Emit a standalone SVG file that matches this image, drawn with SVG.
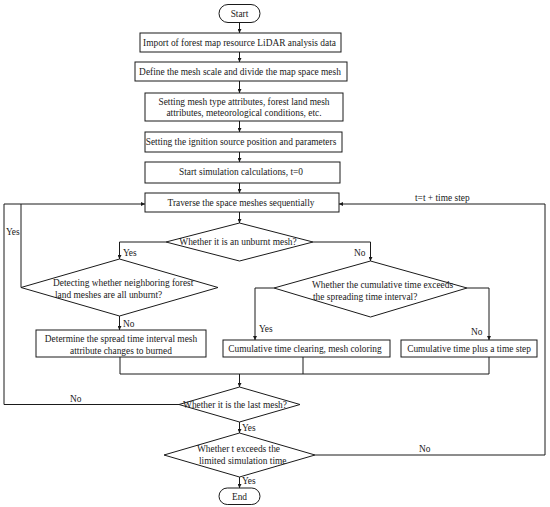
<svg xmlns="http://www.w3.org/2000/svg" width="550" height="507" viewBox="0 0 550 507">
<defs>
<marker id="ah" viewBox="0 0 8 8" refX="8" refY="4" markerWidth="4" markerHeight="4" orient="auto" markerUnits="userSpaceOnUse">
<path d="M0,0 L8,4 L0,8 Z" fill="#1a1a1a"/>
</marker>
<style>
.n{fill:#fff;stroke:#1a1a1a;stroke-width:1}
.t{font-family:"Liberation Serif","Times New Roman",serif;font-size:9.4px;fill:#1a1a1a}
.m{text-anchor:middle}
.c{fill:none;stroke:#1a1a1a;stroke-width:1}
.a{marker-end:url(#ah)}
</style>
</defs>
<rect width="550" height="507" fill="#fff"/>
<g id="connectors">
<path class="c a" d="M239.5,22.5V33"/>
<path class="c a" d="M239.5,52V62"/>
<path class="c a" d="M239.5,81V93"/>
<path class="c a" d="M239.5,121V132"/>
<path class="c a" d="M239.5,152V162"/>
<path class="c a" d="M239.5,183V193"/>
<path class="c a" d="M239.5,212V223"/>
<path class="c a" d="M166,242H119.5V259"/>
<path class="c a" d="M313,242H370.5V261"/>
<path class="c a" d="M119.5,316V330"/>
<path class="c a" d="M274,288H255V340"/>
<path class="c a" d="M467,288H489V340"/>
<path class="c" d="M120,357V374H489V357"/>
<path class="c" d="M303,357V374"/>
<path class="c a" d="M239.5,374V387"/>
<path class="c a" d="M179,404.5H4V204H145"/>
<path class="c" d="M21,287.5V204"/>
<path class="c a" d="M239.5,422V433"/>
<path class="c a" d="M315,455H545V204H339"/>
<path class="c a" d="M239.5,477V488"/>
<text class="t" x="6" y="235">Yes</text>
<text class="t" x="123" y="256">Yes</text>
<text class="t" x="354" y="256">No</text>
<text class="t" x="123" y="327">No</text>
<text class="t" x="259" y="332">Yes</text>
<text class="t" x="471" y="335">No</text>
<text class="t" x="415" y="200.5">t=t + time step</text>
<text class="t" x="70" y="401.5">No</text>
<text class="t" x="242" y="431">Yes</text>
<text class="t" x="419" y="452">No</text>
<text class="t" x="242" y="484">Yes</text>
</g>
<g id="start">
<rect class="n" x="219" y="4.5" width="41" height="18" rx="9"/>
<text class="t m" x="239.5" y="17">Start</text>
</g>
<g id="import">
<rect class="n" x="140" y="33" width="201" height="19"/>
<text class="t m" x="239.5" y="45.5">Import of forest map resource LiDAR analysis data</text>
</g>
<g id="define">
<rect class="n" x="135" y="62" width="212" height="19"/>
<text class="t m" x="240" y="74.5">Define the mesh scale and divide the map space mesh</text>
</g>
<g id="attributes">
<rect class="n" x="145" y="93" width="198" height="28"/>
<text class="t m" x="244" y="104.5">Setting mesh type attributes, forest land mesh</text>
<text class="t m" x="244" y="116">attributes, meteorological conditions, etc.</text>
</g>
<g id="ignition">
<rect class="n" x="145" y="132" width="197" height="20"/>
<text class="t m" x="241" y="145">Setting the ignition source position and parameters</text>
</g>
<g id="startsim">
<rect class="n" x="145" y="162" width="195" height="21"/>
<text class="t m" x="241" y="175">Start simulation calculations, t=0</text>
</g>
<g id="traverse">
<rect class="n" x="145" y="193" width="194" height="19"/>
<text class="t m" x="241" y="206">Traverse the space meshes sequentially</text>
</g>
<g id="unburnt">
<polygon class="n" points="239.5,223 313,242 239.5,261 166,242"/>
<text class="t m" x="238" y="245">Whether it is an unburnt mesh?</text>
</g>
<g id="detecting">
<polygon class="n" points="119.5,259 218,287.5 119.5,316 21,287.5"/>
<text class="t" x="53" y="285.5">Detecting whether neighboring forest</text>
<text class="t" x="55" y="298">land meshes are all unburnt?</text>
</g>
<g id="cumulative">
<polygon class="n" points="370.5,261 467,288 370.5,317 274,288"/>
<text class="t" x="312" y="288">Whether the cumulative time exceeds</text>
<text class="t" x="313" y="300">the spreading time interval?</text>
</g>
<g id="determine">
<rect class="n" x="36" y="330" width="170" height="27"/>
<text class="t m" x="121" y="342">Determine the spread time interval mesh</text>
<text class="t m" x="121" y="353.5">attribute changes to burned</text>
</g>
<g id="clearing">
<rect class="n" x="223" y="340" width="167" height="17"/>
<text class="t m" x="305" y="351.5">Cumulative time clearing, mesh coloring</text>
</g>
<g id="plus">
<rect class="n" x="401" y="340" width="136" height="17"/>
<text class="t m" x="469" y="351.5">Cumulative time plus a time step</text>
</g>
<g id="lastmesh">
<polygon class="n" points="239.5,387 300,404.5 239.5,422 179,404.5"/>
<text class="t m" x="235" y="407.5">Whether it is the last mesh?</text>
</g>
<g id="limit">
<polygon class="n" points="239.5,433 315,455 239.5,477 164,455"/>
<text class="t" x="197" y="451.5">Whether t exceeds the</text>
<text class="t" x="199" y="464">limited simulation time</text>
</g>
<g id="end">
<rect class="n" x="219" y="488" width="41" height="16.5" rx="8.25"/>
<text class="t m" x="239.5" y="499.5">End</text>
</g>
</svg>
